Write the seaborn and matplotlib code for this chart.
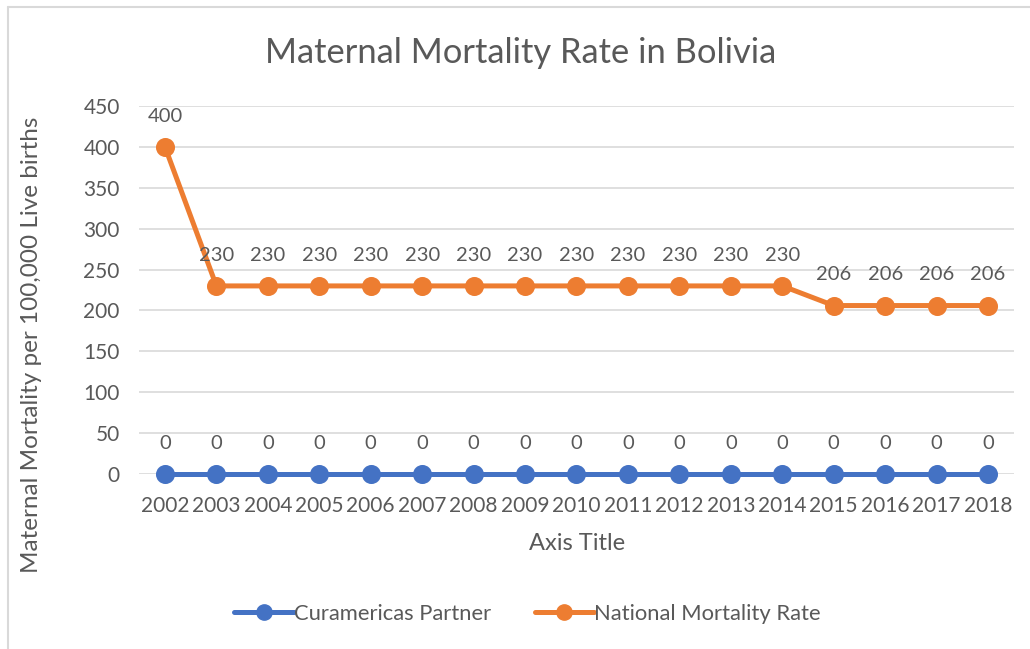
import matplotlib
matplotlib.use('Agg')
import matplotlib.pyplot as plt
from matplotlib.lines import Line2D
import seaborn as sns
import pandas as pd

# data
years = [str(y) for y in range(2002, 2019)]
curamericas = [0] * 17
national = [400] + [230] * 12 + [206] * 4

sns.set_theme(style='white')
plt.rcParams['font.family'] = ['Lato', 'DejaVu Sans']

txt = '#595959'
blue = '#4472C4'
orange = '#ED7D31'

df = pd.DataFrame({
    'year': years * 2,
    'value': curamericas + national,
    'series': ['Curamericas Partner'] * 17 + ['National Mortality Rate'] * 17,
})

fig = plt.figure(figsize=(10.30, 6.49), dpi=100)
ax = fig.add_axes([0.1352, 0.2696, 0.8490, 0.5671])

sns.pointplot(data=df, x='year', y='value', hue='series',
              palette=[blue, orange], markers='o', linewidth=3.6,
              markersize=11, ax=ax, legend=False, errorbar=None)
for art in ax.lines + ax.collections:
    art.set_clip_on(False)

ax.set_ylim(0, 450)
ax.set_xlim(-0.5, 16.5)
ax.set_yticks(range(0, 451, 50))
ax.yaxis.grid(True, color='#D9D9D9', linewidth=1.2)
ax.set_axisbelow(True)
for s in ax.spines.values():
    s.set_visible(False)
ax.tick_params(axis='both', labelsize=15, colors=txt, length=0)
ax.tick_params(axis='x', pad=16)
ax.tick_params(axis='y', pad=14)
ax.set_xlabel('')
ax.set_ylabel('')

# data labels above every point
for vals in (curamericas, national):
    for i, v in enumerate(vals):
        ax.annotate(str(v), (i, v), xytext=(0, 22), textcoords='offset points',
                    ha='center', va='center', fontsize=14.5, color=txt)

fig.text(0.5058, 0.919, 'Maternal Mortality Rate in Bolivia', ha='center', va='center',
         fontsize=24.8, color=txt)
fig.text(0.560, 0.162, 'Axis Title', ha='center', va='center', fontsize=17, color=txt)
fig.text(0.031, 0.468, 'Maternal Mortality per 100,000 Live births', rotation=90,
         ha='center', va='center', fontsize=17.5, color=txt)

handles = [Line2D([], [], color=blue, lw=3.6, marker='o', markersize=11),
           Line2D([], [], color=orange, lw=3.6, marker='o', markersize=11)]
fig.legend(handles, ['Curamericas Partner', 'National Mortality Rate'],
           loc='center', bbox_to_anchor=(0.512, 0.054), ncol=2, frameon=False,
           fontsize=15.8, labelcolor=txt, handlelength=2.7, handletextpad=0.0,
           columnspacing=2.0)

# chart frame (left and top edges visible)
fig.add_artist(Line2D([0.0075, 0.0075], [0, 0.989], color='#D9D9D9', lw=1.5,
                      transform=fig.transFigure))
fig.add_artist(Line2D([0.0075, 1], [0.989, 0.989], color='#D9D9D9', lw=1.5,
                      transform=fig.transFigure))

fig.savefig('out.png', dpi=100)
